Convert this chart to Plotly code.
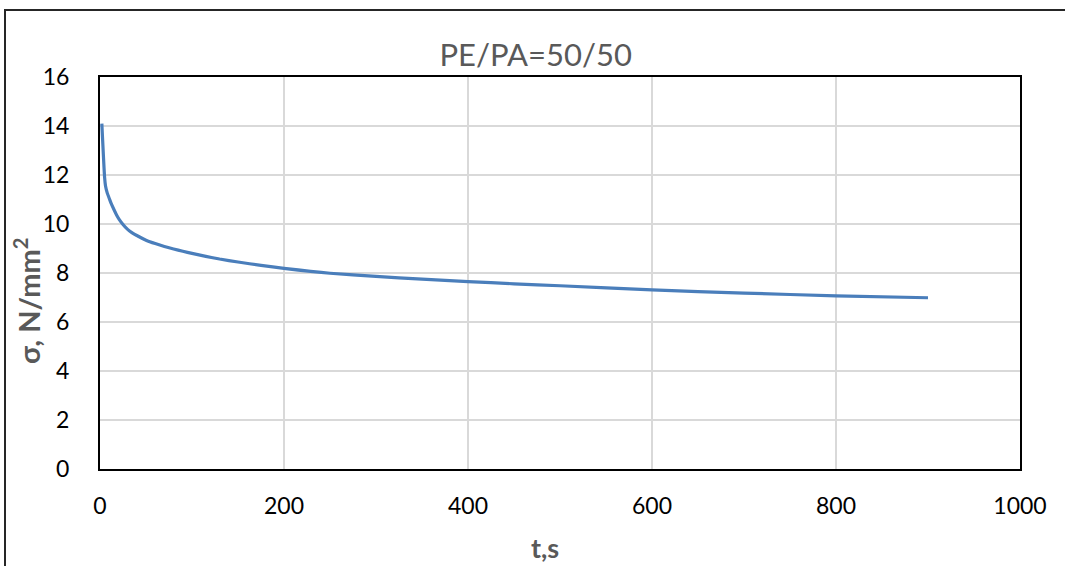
import plotly.graph_objects as go

t_s = [2, 5, 6, 8, 10, 12, 15, 18, 21, 25, 30, 35, 40, 50, 60, 70, 80, 90, 100, 115, 130, 150, 175,
       200, 250, 300, 350, 400, 450, 500, 600, 700, 800, 900]
sigma = [14.1, 11.9, 11.55, 11.25, 11.05, 10.85, 10.6, 10.37, 10.18, 9.98, 9.78, 9.64, 9.53, 9.34, 9.2,
         9.08, 8.98, 8.89, 8.8, 8.68, 8.57, 8.45, 8.31, 8.19, 7.99, 7.86, 7.75, 7.65, 7.56, 7.48, 7.31,
         7.18, 7.07, 6.99]

x_ticks = [0, 200, 400, 600, 800, 1000]
y_ticks = [0, 2, 4, 6, 8, 10, 12, 14, 16]

title_text = "PE/PA=50/50"
x_title = "t,s"
y_title = "σ, N/mm<sup>2</sup>"

W, H = 1065, 566
L, R, T, B = 100, 45, 77, 97

fig = go.Figure()
fig.add_trace(go.Scatter(x=t_s, y=sigma, mode="lines",
                         line=dict(color="#4A7EBB", width=3.2, shape="spline", smoothing=0.5),
                         hoverinfo="x+y", showlegend=False))

font_family = "Lato, 'Open Sans', sans-serif"

fig.update_layout(
    width=W, height=H,
    margin=dict(l=L, r=R, t=T, b=B),
    paper_bgcolor="white", plot_bgcolor="white",
    font=dict(family=font_family, color="black", size=22),
    title=dict(text=title_text, x=0.503, xref="container", xanchor="center",
               y=1 - 55 / H, yref="container", yanchor="middle",
               font=dict(size=31, color="#595959", family=font_family)),
    showlegend=False,
)

fig.update_xaxes(range=[0, 1000], tickvals=x_ticks, showgrid=True, gridcolor="#D9D9D9", gridwidth=1.5,
                 showline=True, linecolor="black", linewidth=2, mirror=True, zeroline=False,
                 ticks="", ticklabelstandoff=15, tickfont=dict(size=23, color="black"))
fig.update_yaxes(range=[0, 16], tickvals=y_ticks, showgrid=True, gridcolor="#D9D9D9", gridwidth=1.5,
                 showline=True, linecolor="black", linewidth=2, mirror=True, zeroline=False,
                 ticks="", ticklabelstandoff=24, tickfont=dict(size=23, color="black"))

pw, ph = W - L - R, H - T - B

# axis titles
fig.add_annotation(text=x_title, xref="paper", yref="paper",
                   x=(545 - L) / pw, y=(H - B - 547) / ph, xanchor="center", yanchor="middle",
                   showarrow=False, font=dict(size=27, color="#595959", family=font_family, weight="bold"))
fig.add_annotation(text=y_title, xref="paper", yref="paper",
                   x=(27 - L) / pw, y=(H - B - 301) / ph, xanchor="center", yanchor="middle",
                   textangle=-90, showarrow=False,
                   font=dict(size=29, color="#595959", family=font_family, weight="bold"))

# chart area border
fig.add_shape(type="rect", xref="paper", yref="paper",
              x0=(5 - L) / pw, x1=(W + 5 - L) / pw,
              y0=(H - B - (H + 10)) / ph, y1=(H - B - 10) / ph,
              line=dict(color="#262626", width=2), fillcolor="rgba(0,0,0,0)", layer="below")

fig.write_html("out.html", config={"displayModeBar": False},
               post_script="document.body.style.margin='0';document.body.style.overflow='hidden';")
